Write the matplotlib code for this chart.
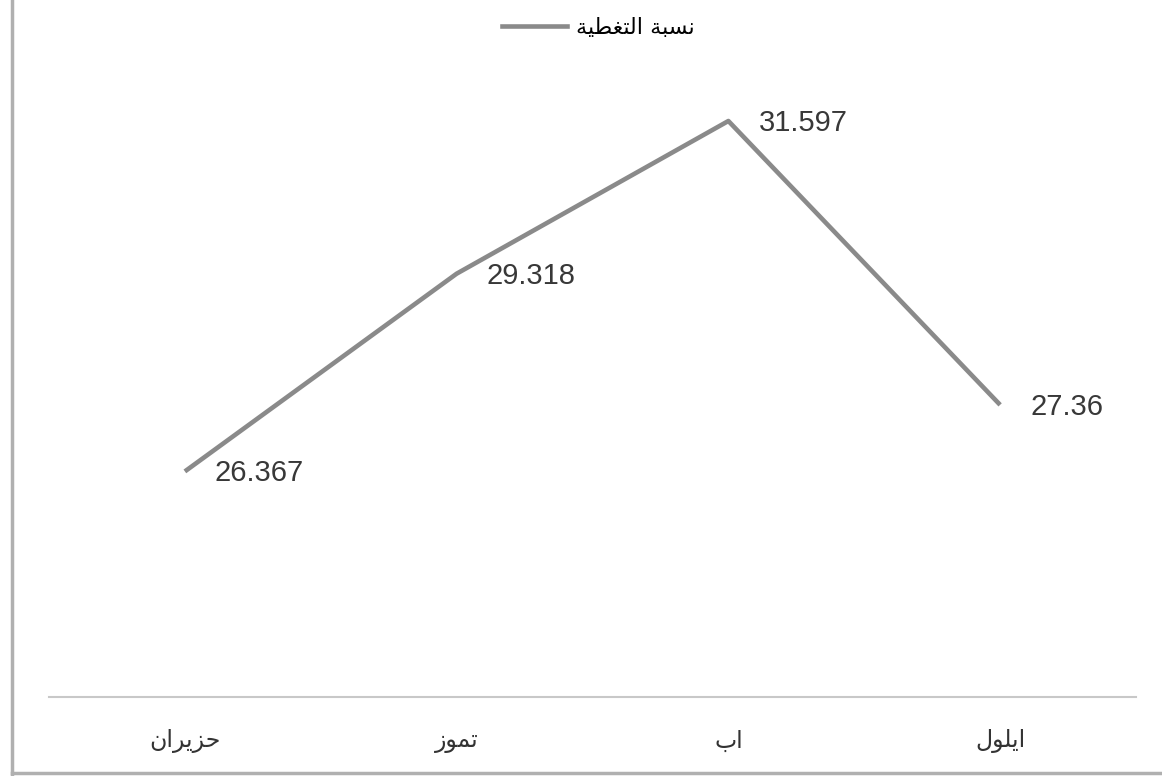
import matplotlib
matplotlib.use('Agg')
from matplotlib import pyplot as plt
from matplotlib.lines import Line2D

# arabic text as presentation forms, reversed for left-to-right drawing (no shaping in matplotlib)
def vis(s):
    return s[::-1]

months = [vis('\uFEA3\uFEB0\uFEF3\uFEAE\uFE8D\uFEE5'),   # حزيران
          vis('\uFE97\uFEE4\uFEEE\uFEAF'),               # تموز
          vis('\uFE8D\uFE8F'),                           # اب
          vis('\uFE8D\uFEF3\uFEE0\uFEEE\uFEDD')]         # ايلول
coverage = [26.367, 29.318, 31.597, 27.36]
value_labels = ['26.367', '29.318', '31.597', '27.36']
series_name = vis('\uFEE7\uFEB4\uFE92\uFE94 \uFE8D\uFEDF\uFE98\uFED0\uFEC4\uFEF4\uFE94')  # نسبة التغطية

fig = plt.figure(figsize=(11.62, 7.76), dpi=100)
ax = fig.add_axes([49 / 1162, 79 / 776, 1087 / 1162, 670 / 776])

x = list(range(len(months)))
ax.plot(x, coverage, color='#8a8a8a', lw=3.3, solid_capstyle='butt')
for xi, yi, t in zip(x, coverage, value_labels):
    ax.annotate(t, (xi, yi), xytext=(30, -2), textcoords='offset pixels',
                ha='left', va='center', fontsize=21, color='#383838',
                family='Liberation Sans')

ax.set_xlim(-0.5, 3.5)
ax.set_ylim(23, 33)
ax.set_xticks(x)
ax.set_xticklabels(months, family='DejaVu Sans', fontsize=17, color='#333333')
ax.tick_params(axis='x', length=0, pad=23)
ax.set_yticks([])
for s in ['top', 'left', 'right']:
    ax.spines[s].set_visible(False)
ax.spines['bottom'].set_color('#c8c8c8')
ax.spines['bottom'].set_linewidth(1.5)

handle = Line2D([], [], color='#8a8a8a', lw=3.3)
fig.legend([handle], [series_name], loc='center', bbox_to_anchor=(0.515, 1 - 28 / 776),
           frameon=False, prop={'family': 'DejaVu Sans', 'size': 16},
           handlelength=2.9, handletextpad=0.4)

# outer frame of the scanned chart
fig.add_artist(Line2D([12 / 1162, 12 / 1162], [0, 1], color='#b0b0b0', lw=2.5, transform=fig.transFigure))
fig.add_artist(Line2D([12 / 1162, 1], [3 / 776, 3 / 776], color='#b0b0b0', lw=2.5, transform=fig.transFigure))

fig.savefig('out.png', dpi=100, facecolor='white')
